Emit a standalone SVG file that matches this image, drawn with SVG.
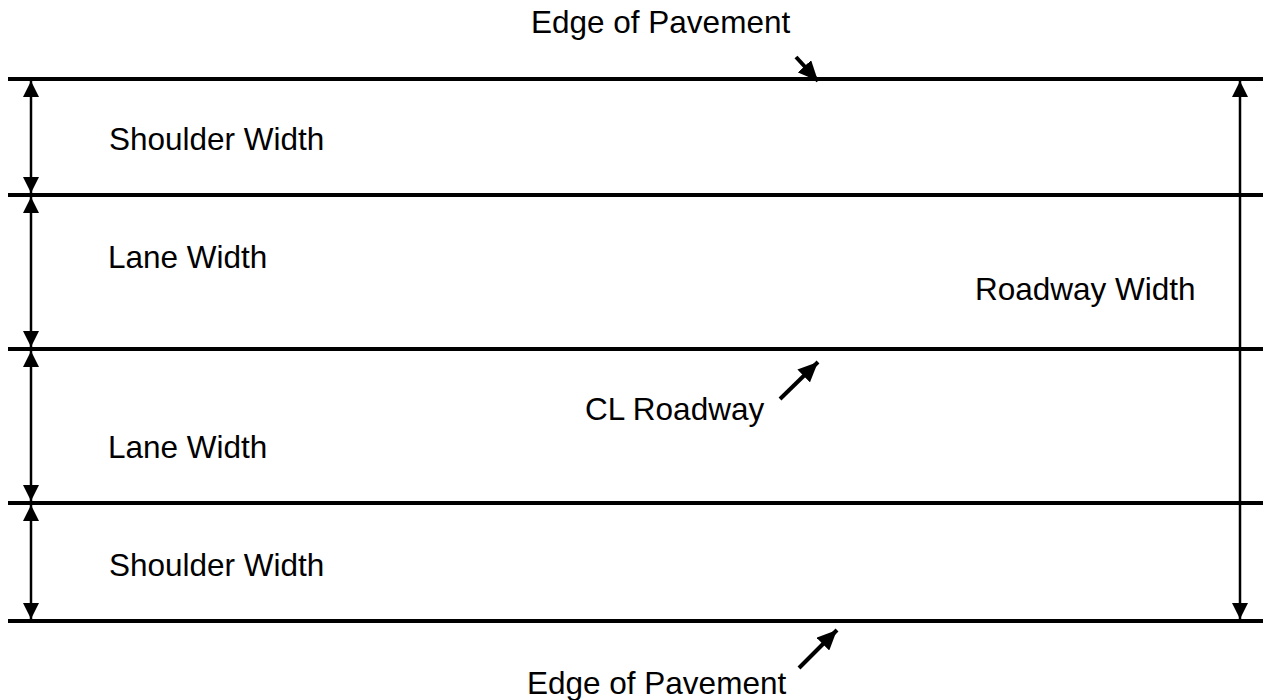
<svg xmlns="http://www.w3.org/2000/svg" width="1265" height="700" viewBox="0 0 1265 700">
<style>
.rule{stroke:#000;stroke-width:4;fill:none}
.dim{stroke:#000;stroke-width:2.5;fill:none}
.ptr{stroke:#000;stroke-width:4;fill:none}
.lbl{font-family:"Liberation Sans",Arial,sans-serif;font-size:31.5px;fill:#000}
</style>
<defs>
<marker id="ah" viewBox="0 0 16 16" refX="16" refY="8" markerWidth="16" markerHeight="16" markerUnits="userSpaceOnUse" orient="auto-start-reverse">
<path d="M0,0 L16,8 L0,16 Z" fill="#000"/>
</marker>
<marker id="ah2" viewBox="0 0 20 18" refX="20" refY="9" markerWidth="20" markerHeight="18" markerUnits="userSpaceOnUse" orient="auto">
<path d="M0,0 L20,9 L0,18 Z" fill="#000"/>
</marker>
</defs>
<rect width="1265" height="700" fill="#fff"/>
<g id="road-lines">
<line class="rule" x1="8" y1="79" x2="1263" y2="79"/>
<line class="rule" x1="8" y1="195" x2="1263" y2="195"/>
<line class="rule" x1="8" y1="349" x2="1263" y2="349"/>
<line class="rule" x1="8" y1="503" x2="1263" y2="503"/>
<line class="rule" x1="8" y1="621" x2="1263" y2="621"/>
</g>
<g id="connectors">
<line class="dim" x1="31" y1="81" x2="31" y2="193" marker-start="url(#ah)" marker-end="url(#ah)"/>
<line class="dim" x1="31" y1="197" x2="31" y2="347" marker-start="url(#ah)" marker-end="url(#ah)"/>
<line class="dim" x1="31" y1="351" x2="31" y2="501" marker-start="url(#ah)" marker-end="url(#ah)"/>
<line class="dim" x1="31" y1="505" x2="31" y2="619" marker-start="url(#ah)" marker-end="url(#ah)"/>
<line class="dim" x1="1240" y1="81" x2="1240" y2="619" marker-start="url(#ah)" marker-end="url(#ah)"/>
<line class="ptr" x1="796" y1="57" x2="818" y2="81" marker-end="url(#ah2)"/>
<line class="ptr" x1="780" y1="399" x2="818" y2="362" marker-end="url(#ah2)"/>
<line class="ptr" x1="799" y1="668" x2="837" y2="630" marker-end="url(#ah2)"/>
</g>
<g id="label-edge-top"><text class="lbl" x="531" y="33">Edge of Pavement</text></g>
<g id="label-shoulder-1"><text class="lbl" x="109" y="150">Shoulder Width</text></g>
<g id="label-lane-1"><text class="lbl" x="108" y="268">Lane Width</text></g>
<g id="label-roadway"><text class="lbl" x="975" y="300">Roadway Width</text></g>
<g id="label-cl"><text class="lbl" x="585" y="420">CL Roadway</text></g>
<g id="label-lane-2"><text class="lbl" x="108" y="458">Lane Width</text></g>
<g id="label-shoulder-2"><text class="lbl" x="109" y="576">Shoulder Width</text></g>
<g id="label-edge-bottom"><text class="lbl" x="527" y="694">Edge of Pavement</text></g>
</svg>
